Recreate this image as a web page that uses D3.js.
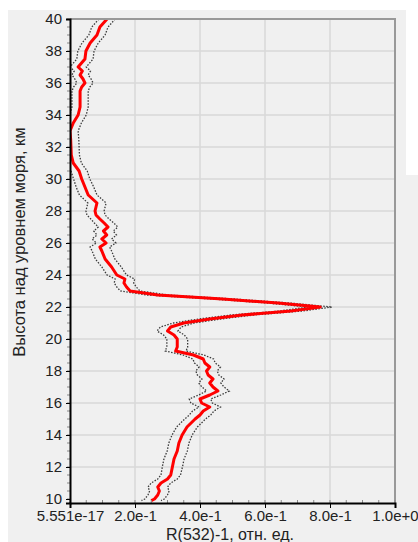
<!DOCTYPE html>
<html><head><meta charset="utf-8">
<script src="https://cdn.jsdelivr.net/npm/d3@7"></script>
<style>html,body{margin:0;padding:0;background:#fff;}svg{display:block;}</style>
</head><body>
<svg id="c" width="418" height="542"></svg>
<script>
// Heights, km
const heights = [40,39.5,39,38.5,38,37.5,37,36.75,36.5,36.25,36,35.75,35.5,35,34.5,34,33.5,33,32.5,32,31.5,31,30.5,30,29.5,29,28.5,28.25,28,27.75,27.5,27.25,27,26.75,26.5,26.25,26,25.75,25.5,25,24.5,24,23.75,23.5,23.25,23,22.75,22.5,22.25,22,21.75,21.5,21.25,21,20.75,20.5,20.25,20,19.75,19.5,19.25,19,18.75,18.5,18.25,18,17.75,17.5,17.25,17,16.75,16.5,16.25,16,15.75,15.5,15.25,15,14.5,14,13.75,13.5,13,12.5,12,11.5,11.25,11,10.75,10.5,10.25,10,9.9];
// R(532)-1 values
const ratio = [0.114,0.092,0.083,0.062,0.049,0.046,0.025,0.038,0.031,0.040,0.046,0.036,0.031,0.031,0.031,0.025,0.010,0.000,0.002,0.003,0.004,0.010,0.028,0.036,0.046,0.056,0.083,0.080,0.077,0.080,0.092,0.105,0.117,0.103,0.113,0.098,0.111,0.092,0.098,0.108,0.128,0.144,0.169,0.166,0.174,0.185,0.270,0.470,0.640,0.770,0.680,0.530,0.430,0.350,0.310,0.300,0.320,0.330,0.330,0.330,0.325,0.380,0.410,0.415,0.430,0.420,0.425,0.440,0.430,0.440,0.455,0.430,0.400,0.405,0.430,0.410,0.400,0.385,0.360,0.345,0.340,0.335,0.330,0.320,0.315,0.310,0.300,0.280,0.270,0.275,0.270,0.260,0.250];
// error (half-width of dotted band)
const errors = [0.025,0.025,0.025,0.025,0.025,0.025,0.025,0.025,0.025,0.025,0.025,0.025,0.025,0.025,0.025,0.025,0.025,0.025,0.025,0.025,0.025,0.025,0.025,0.025,0.027,0.027,0.028,0.028,0.028,0.028,0.028,0.03,0.03,0.03,0.03,0.03,0.03,0.03,0.03,0.03,0.03,0.03,0.03,0.03,0.03,0.03,0.032,0.035,0.036,0.036,0.036,0.035,0.034,0.032,0.032,0.032,0.032,0.032,0.032,0.032,0.032,0.032,0.032,0.032,0.033,0.033,0.033,0.034,0.034,0.034,0.035,0.034,0.033,0.033,0.033,0.033,0.033,0.032,0.032,0.031,0.031,0.031,0.031,0.031,0.031,0.03,0.03,0.03,0.03,0.03,0.03,0.03,0.03];
const xTicks = [0,0.2,0.4,0.6,0.8,1.0];
const xTickLabels = ["5.551e-17","2.0e-1","4.0e-1","6.0e-1","8.0e-1","1.0e+0"];
const yTicks = [10,12,14,16,18,20,22,24,26,28,30,32,34,36,38,40];

const svg = d3.select("#c");
const font = "'Liberation Sans', Arial, sans-serif";
const L = 70, R = 395, T = 19, B = 503;
const x = d3.scaleLinear().domain([0,1]).range([L,R]);
const y = d3.scaleLinear().domain([9.75,40]).range([B,T]);

// panel background
svg.append("rect").attr("x",8).attr("y",10).attr("width",410).attr("height",532).attr("fill","#f0f0f0");
svg.append("rect").attr("x",406).attr("y",0).attr("width",12).attr("height",175).attr("fill","#fff");

// grid
svg.append("g").selectAll("line").data(xTicks.slice(1,-1)).join("line")
  .attr("x1",d=>x(d)).attr("x2",d=>x(d)).attr("y1",T).attr("y2",B)
  .attr("stroke","#d9d9d9").attr("stroke-width",1.5);
svg.append("g").selectAll("line").data(yTicks.filter(d=>d>10&&d<40)).join("line")
  .attr("x1",L).attr("x2",R).attr("y1",d=>y(d)).attr("y2",d=>y(d))
  .attr("stroke","#d9d9d9").attr("stroke-width",1.5);

// data lines
const pts = heights.map((h,i)=>({h, v:ratio[i], e:errors[i]}));
svg.append("defs").append("clipPath").attr("id","pc").append("rect")
  .attr("x",L).attr("y",T-2).attr("width",R-L).attr("height",B-T+2);
const g = svg.append("g").attr("clip-path","url(#pc)");
const lineOf = f => d3.line().x(d=>x(f(d))).y(d=>y(d.h)).curve(d3.curveLinear);
[d=>d.v-d.e, d=>d.v+d.e].forEach(f=>{
  g.append("path").datum(pts).attr("d",lineOf(f)).attr("fill","none")
    .attr("stroke","#3a3a3a").attr("stroke-width",1.3).attr("stroke-dasharray","1.5,1.5");
});
g.append("path").datum(pts).attr("d",lineOf(d=>d.v)).attr("fill","none")
  .attr("stroke","#ff0000").attr("stroke-width",3).attr("stroke-linejoin","round");

// borders
svg.append("line").attr("x1",L).attr("x2",R+1).attr("y1",T).attr("y2",T).attr("stroke","#999").attr("stroke-width",2);
svg.append("line").attr("x1",R).attr("x2",R).attr("y1",T).attr("y2",B).attr("stroke","#999").attr("stroke-width",2);

// minor ticks
const yMinor = d3.range(10,40.01,0.5);
svg.append("g").selectAll("line").data(yMinor).join("line")
  .attr("x1",L-3).attr("x2",L).attr("y1",d=>y(d)).attr("y2",d=>y(d)).attr("stroke","#888").attr("stroke-width",1);
const xMinor = d3.range(0,1.001,0.05);
svg.append("g").selectAll("line").data(xMinor).join("line")
  .attr("x1",d=>x(d)).attr("x2",d=>x(d)).attr("y1",B-3).attr("y2",B).attr("stroke","#888").attr("stroke-width",1);

// axes
const ax = svg.append("g").attr("transform",`translate(0,${B})`)
  .call(d3.axisBottom(x).tickValues(xTicks).tickFormat((d,i)=>xTickLabels[i]).tickSize(5).tickPadding(2));
const ay = svg.append("g").attr("transform",`translate(${L},0)`)
  .call(d3.axisLeft(y).tickValues(yTicks).tickFormat(d3.format("d")).tickSize(4).tickPadding(4));
[ax,ay].forEach(a=>{
  a.select(".domain").attr("stroke","#000").attr("stroke-width",2);
  a.selectAll(".tick line").attr("stroke","#000");
  a.selectAll("text").attr("font-family",font).attr("font-size",15).attr("fill","#222");
});

// titles
svg.append("text").attr("x",230).attr("y",540).attr("text-anchor","middle")
  .attr("font-family",font).attr("font-size",16).attr("fill","#222").text("R(532)-1, отн. ед.");
svg.append("text").attr("transform","translate(25,242) rotate(-90)").attr("text-anchor","middle")
  .attr("font-family",font).attr("font-size",16.5).attr("fill","#222").text("Высота над уровнем моря, км");
</script>
</body></html>
